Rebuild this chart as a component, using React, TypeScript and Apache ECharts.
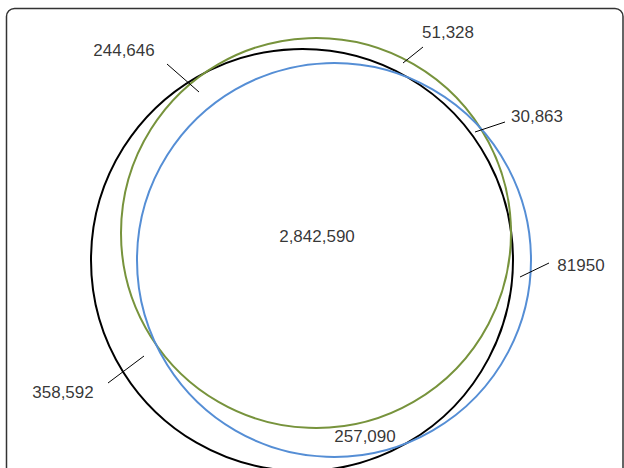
import React, { useEffect, useRef } from "react";
import * as echarts from "echarts";

// Circles of the Venn diagram: [centerX, centerY, radius] in chart units (y grows downward)
const circleNames = ["Set A", "Set B", "Set C"];
const circleCenters: [number, number][] = [
  [302, 260],
  [316, 233],
  [334, 260],
];
const circleRadii = [211, 195, 197];
const circleColors = ["#000000", "#77933C", "#558ED5"];

// Region counts and their label positions
const regionLabels = ["244,646", "51,328", "30,863", "2,842,590", "81950", "358,592", "257,090"];
const labelPositions: [number, number][] = [
  [124, 50],
  [448, 32],
  [537, 116],
  [317, 236],
  [581, 265],
  [63, 392],
  [365, 436],
];

// Leader lines: [x1, y1, x2, y2]
const leaderLines: [number, number, number, number][] = [
  [167, 64, 199, 92],
  [423, 47, 403, 63],
  [505, 122, 475, 132],
  [549, 263, 520, 277],
  [108, 383, 144, 356],
];

export default function App() {
  const ref = useRef<HTMLDivElement>(null);
  useEffect(() => {
    document.body.style.margin = "0";
    if (!ref.current) return;
    const chart = echarts.init(ref.current, undefined, { renderer: "svg" });
    const circleData = circleCenters.map((c, i) => ({
      name: circleNames[i],
      value: [c[0], c[1], circleRadii[i]],
      itemStyle: { color: circleColors[i] },
    }));
    chart.setOption({
      animation: false,
      backgroundColor: "#ffffff",
      grid: { left: 0, right: 0, top: 0, bottom: 0 },
      xAxis: { type: "value", min: 0, max: 624, show: false },
      yAxis: { type: "value", min: 0, max: 468, inverse: true, show: false },
      graphic: [
        {
          type: "rect",
          shape: { x: 6.5, y: 8.5, width: 616.5, height: 480, r: 8 },
          style: { fill: "none", stroke: "#333333", lineWidth: 1.5 },
          silent: true,
          z: 0,
        },
      ],
      series: [
        {
          type: "custom",
          coordinateSystem: "cartesian2d",
          data: circleData,
          clip: false,
          renderItem: (params: any, api: any) => {
            const c = api.coord([api.value(0), api.value(1)]);
            const r = api.size([api.value(2), 0])[0];
            return {
              type: "circle",
              shape: { cx: c[0], cy: c[1], r },
              style: { fill: "none", stroke: circleColors[params.dataIndex], lineWidth: 2 },
            };
          },
          z: 2,
        },
        {
          type: "custom",
          coordinateSystem: "cartesian2d",
          data: leaderLines.map((l) => ({ value: l })),
          clip: false,
          renderItem: (params: any, api: any) => {
            const p1 = api.coord([api.value(0), api.value(1)]);
            const p2 = api.coord([api.value(2), api.value(3)]);
            return {
              type: "line",
              shape: { x1: p1[0], y1: p1[1], x2: p2[0], y2: p2[1] },
              style: { stroke: "#000000", lineWidth: 1 },
            };
          },
          z: 3,
        },
        {
          type: "scatter",
          symbolSize: 0,
          data: labelPositions.map((p, i) => ({ value: p, name: regionLabels[i] })),
          label: {
            show: true,
            position: "inside",
            formatter: (p: any) => p.name,
            color: "#000000",
            textBorderWidth: 0,
            textBorderColor: "transparent",
            fontSize: 17,
            fontFamily: "Liberation Sans, Arial, sans-serif",
          },
          z: 4,
        },
      ],
    });
    return () => chart.dispose();
  }, []);
  return <div ref={ref} style={{ width: 624, height: 468 }} />;
}
